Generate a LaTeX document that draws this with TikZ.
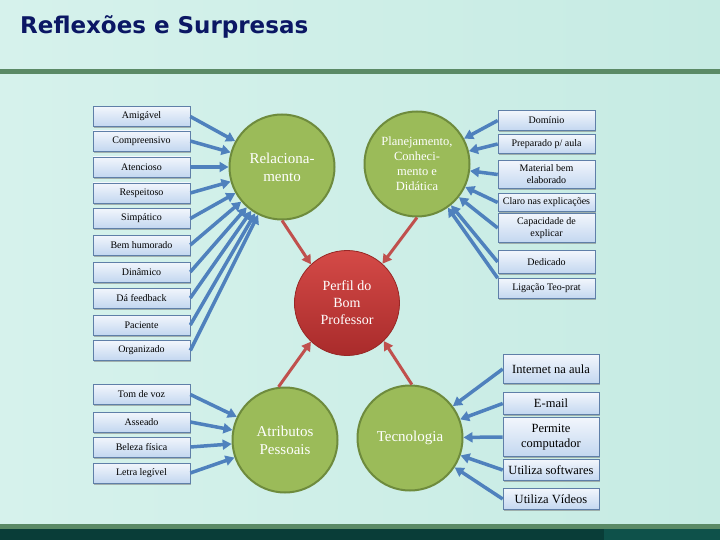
\documentclass[tikz,border=0pt]{standalone}
\usepackage{fontspec}
\setmainfont{Liberation Serif}
\newfontfamily\titlefont{DejaVu Sans}
\usetikzlibrary{arrows.meta, shadows}

\definecolor{slidebg}{HTML}{C6EBE3}
\definecolor{slidebgl}{HTML}{D6F2EC}
\definecolor{titleblue}{HTML}{0B1764}
\definecolor{rulegreen}{HTML}{5B8A66}
\definecolor{barteal}{HTML}{093D38}
\definecolor{barteall}{HTML}{0E514A}
\definecolor{circgreen}{HTML}{9BBB59}
\definecolor{circedge}{HTML}{6E8B3D}
\definecolor{coretop}{HTML}{D44A47}
\definecolor{corebot}{HTML}{A92B2B}
\definecolor{linkblue}{HTML}{4F81BD}
\definecolor{linkred}{HTML}{C0504D}
\definecolor{boxtop}{HTML}{F2F6FC}
\definecolor{boxbot}{HTML}{C3D7F0}
\definecolor{boxedge}{HTML}{5F7FA8}

\begin{document}
\begin{tikzpicture}[x = 1pt, y = -1pt,
    item/.style = {draw = boxedge, line width = 0.6pt, top color = boxtop, bottom color = boxbot,
                   minimum width = 97pt, inner sep = 1pt, align = center,
                   font = \fontsize{10}{12}\selectfont,
                   drop shadow = {shadow xshift = 0.8pt, shadow yshift = -1.8pt, fill = black!55}},
    bigitem/.style = {item, minimum width = 96pt, font = \fontsize{12.5}{15}\selectfont},
    topic/.style = {circle, draw = circedge, line width = 2pt, fill = circgreen, minimum size = 105pt,
                    inner sep = 0pt, text = white, align = center},
    core/.style = {topic, draw = corebot!90!black, line width = 0.8pt, top color = coretop, bottom color = corebot},
    link/.style = {color = linkblue, line width = 3.5pt, -{Triangle[length = 9pt, width = 10pt]}},
    feed/.style = {color = linkred, line width = 3pt, -{Triangle[length = 9pt, width = 10pt]}}]
  \useasboundingbox (0,0) rectangle (720,540);
  % slide background
  \shade[left color = slidebgl, right color = slidebg] (0,0) rectangle (720,540);
  \fill[rulegreen] (0,69.5) rectangle (720,74.5);
  \fill[rulegreen] (0,524) rectangle (720,529);
  \fill[barteal] (0,529) rectangle (604,540);
  \fill[barteall] (604,529) rectangle (720,540);
  \node[anchor = base west, inner sep = 0pt, text = titleblue,
        font = \titlefont\bfseries\fontsize{23}{26}\selectfont] (title) at (20,33.5) {Reflexões e Surpresas};

  % circles
  \node[topic, font = \fontsize{15}{18}\selectfont] (rel) at (282,167) {Relaciona-\\mento};
  \node[topic, font = \fontsize{12.5}{15}\selectfont] (plan) at (417,164) {Planejamento,\\Conheci-\\mento e\\Didática};
  \node[core, font = \fontsize{14}{17}\selectfont] (perfil) at (347,303) {Perfil do\\Bom\\Professor};
  \node[topic, font = \fontsize{15}{18}\selectfont] (atrib) at (285,440) {Atributos\\Pessoais};
  \node[topic, font = \fontsize{15}{18}\selectfont] (tecno) at (410,438) {Tecnologia};

  % left boxes
  \node[item, minimum height = 20pt] (amigavel) at (141.5,116.5) {Amigável};
  \node[item, minimum height = 20pt] (compreensivo) at (141.5,141) {Compreensivo};
  \node[item, minimum height = 20pt] (atencioso) at (141.5,167) {Atencioso};
  \node[item, minimum height = 20pt] (respeitoso) at (141.5,193) {Respeitoso};
  \node[item, minimum height = 20pt] (simpatico) at (141.5,218.5) {Simpático};
  \node[item, minimum height = 20pt] (humorado) at (141.5,245) {Bem humorado};
  \node[item, minimum height = 20pt] (dinamico) at (141.5,272) {Dinâmico};
  \node[item, minimum height = 20pt] (feedback) at (141.5,298) {Dá feedback};
  \node[item, minimum height = 20pt] (paciente) at (141.5,325) {Paciente};
  \node[item, minimum height = 20pt] (organizado) at (141.5,350.5) {Organizado};
  \node[item, minimum height = 20pt] (tomvoz) at (141.5,394.5) {Tom de voz};
  \node[item, minimum height = 20pt] (asseado) at (141.5,422) {Asseado};
  \node[item, minimum height = 20pt] (beleza) at (141.5,447) {Beleza física};
  \node[item, minimum height = 20pt] (letra) at (141.5,473) {Letra legível};

  % right boxes
  \node[item, minimum height = 20pt] (dominio) at (546.5,120.5) {Domínio};
  \node[item, minimum height = 19pt] (preparado) at (546.5,144) {Preparado p/ aula};
  \node[item, minimum height = 28pt] (material) at (546.5,174.5) {Material bem\\elaborado};
  \node[item, minimum height = 18pt] (claro) at (546.5,202.5) {Claro nas explicações};
  \node[item, minimum height = 29pt] (capacidade) at (546.5,228) {Capacidade de\\explicar};
  \node[item, minimum height = 23pt] (dedicado) at (546.5,262) {Dedicado};
  \node[item, minimum height = 20pt] (ligacao) at (546.5,288.5) {Ligação Teo-prat};
  \node[bigitem, minimum height = 29pt] (internet) at (551,369) {Internet na aula};
  \node[bigitem, minimum height = 22pt] (email) at (551,403.5) {E-mail};
  \node[bigitem, minimum height = 39pt] (computador) at (551,437) {Permite\\computador};
  \node[bigitem, minimum height = 21pt] (softwares) at (551,470) {Utiliza softwares};
  \node[bigitem, minimum height = 21pt] (videos) at (551,499) {Utiliza Vídeos};

  % connectors
  \path[link] (amigavel.east) edge (rel) (compreensivo.east) edge (rel) (atencioso.east) edge (rel)
              (respeitoso.east) edge (rel) (simpatico.east) edge (rel) (humorado.east) edge (rel)
              (dinamico.east) edge (rel) (feedback.east) edge (rel) (paciente.east) edge (rel)
              (organizado.east) edge (rel);
  \path[link] (dominio.west) edge (plan) (preparado.west) edge (plan) (material.west) edge (plan)
              (claro.west) edge (plan) (capacidade.west) edge (plan) (dedicado.west) edge (plan)
              (ligacao.north west) edge (plan);
  \path[link] (tomvoz.east) edge (atrib) (asseado.east) edge (atrib)
              (beleza.east) edge (atrib) (letra.east) edge (atrib);
  \path[link] (internet.west) edge (tecno) (email.west) edge (tecno) (computador.west) edge (tecno)
              (softwares.west) edge (tecno) (videos.west) edge (tecno);
  \path[feed] (rel.south) edge (perfil.133) (plan.south) edge (perfil.48)
              (atrib.97) edge (perfil.227) (tecno.88) edge (perfil.314);
\end{tikzpicture}
\end{document}
